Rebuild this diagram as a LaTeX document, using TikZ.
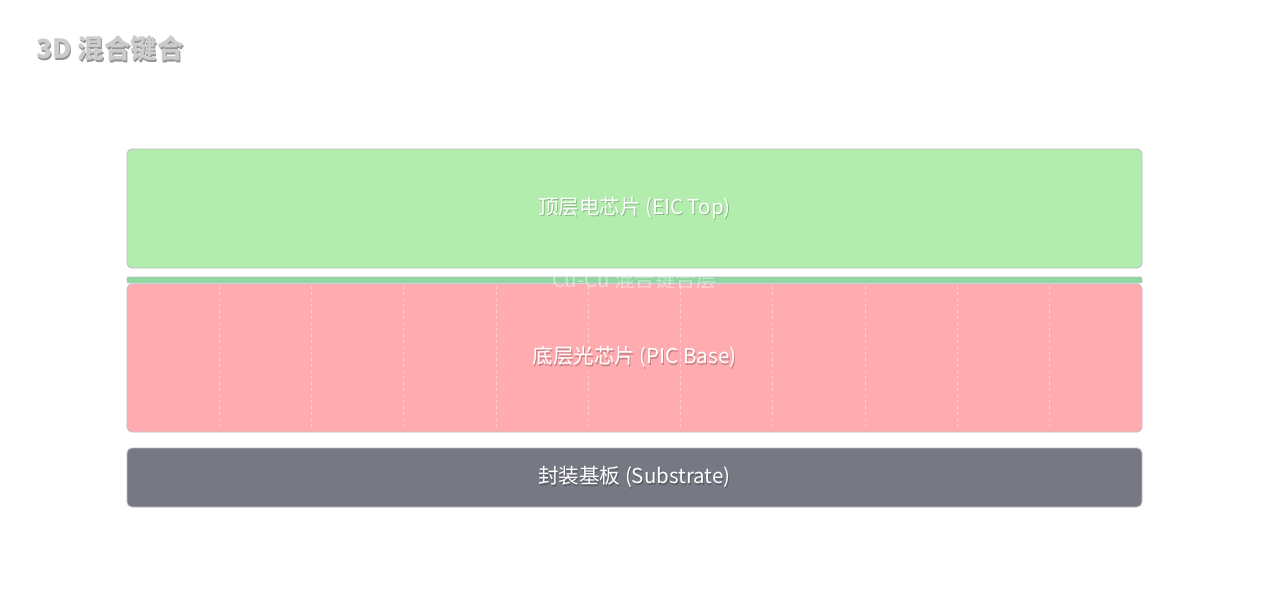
\documentclass[tikz,border=0pt]{standalone}
\usepackage{fontspec}
\setmainfont{Noto Sans CJK SC}
\usepackage{tikz}
\usetikzlibrary{positioning}

\definecolor{eicgreen}{HTML}{B2EDAE}
\definecolor{bondgreen}{HTML}{8ED8A0}
\definecolor{picred}{HTML}{FFABB0}
\definecolor{subgray}{HTML}{767884}
\definecolor{edgegray}{HTML}{BDBDC2}

\tikzset{
  layer/.style={draw=edgegray, line width=0.9pt, rounded corners=5pt},
  layertext/.style={text=white, font=\fontsize{20.5}{20.5}\selectfont},
  textshadow/.style={text=black, opacity=0.22, font=\fontsize{20.5}{20.5}\selectfont},
}

\begin{document}
\begin{tikzpicture}[x=1pt, y=-1pt]  % pixel-like units, y downward
    \useasboundingbox (0,0) rectangle (1269,597);
    \fill[white] (0,0) rectangle (1269,597);

    % title
    \node[text=gray!85, font=\fontsize{26.5}{26.5}\bfseries\selectfont, anchor=west] (titleshadow) at (33.8,50.3) {3D 混合键合};
    \node[text=gray!40, font=\fontsize{26.5}{26.5}\bfseries\selectfont, anchor=west] (title) at (32.5,49) {3D 混合键合};

    % layers
    \draw[layer, fill=eicgreen] (127,149) rectangle (1142,268);
    \draw[layer, fill=bondgreen, rounded corners=2pt] (127,277) rectangle (1142,283);
    \draw[layer, fill=picred] (127,284) rectangle (1142,432);
    \draw[layer, fill=subgray] (127,448) rectangle (1142,507);

    % column marks in the PIC base
    \foreach \i in {1,...,10}
        \draw[white, opacity=0.4, dash pattern=on 3pt off 3pt, line width=0.8pt] (127+\i*92.27,286) -- (127+\i*92.27,430);

    % labels
    \node[textshadow] (eicshadow) at (635.5,209.5) {顶层电芯片 (EIC Top)};
    \node[layertext] (eic) at (634.5,208) {顶层电芯片 (EIC Top)};
    \node[layertext, opacity=0.45] (bond) at (634.5,280) {Cu-Cu 混合键合层};
    \node[textshadow] (picshadow) at (635.5,358.5) {底层光芯片 (PIC Base)};
    \node[layertext] (pic) at (634.5,357) {底层光芯片 (PIC Base)};
    \node[textshadow] (subshadow) at (635.5,478.5) {封装基板 (Substrate)};
    \node[layertext] (sub) at (634.5,477) {封装基板 (Substrate)};
\end{tikzpicture}
\end{document}
